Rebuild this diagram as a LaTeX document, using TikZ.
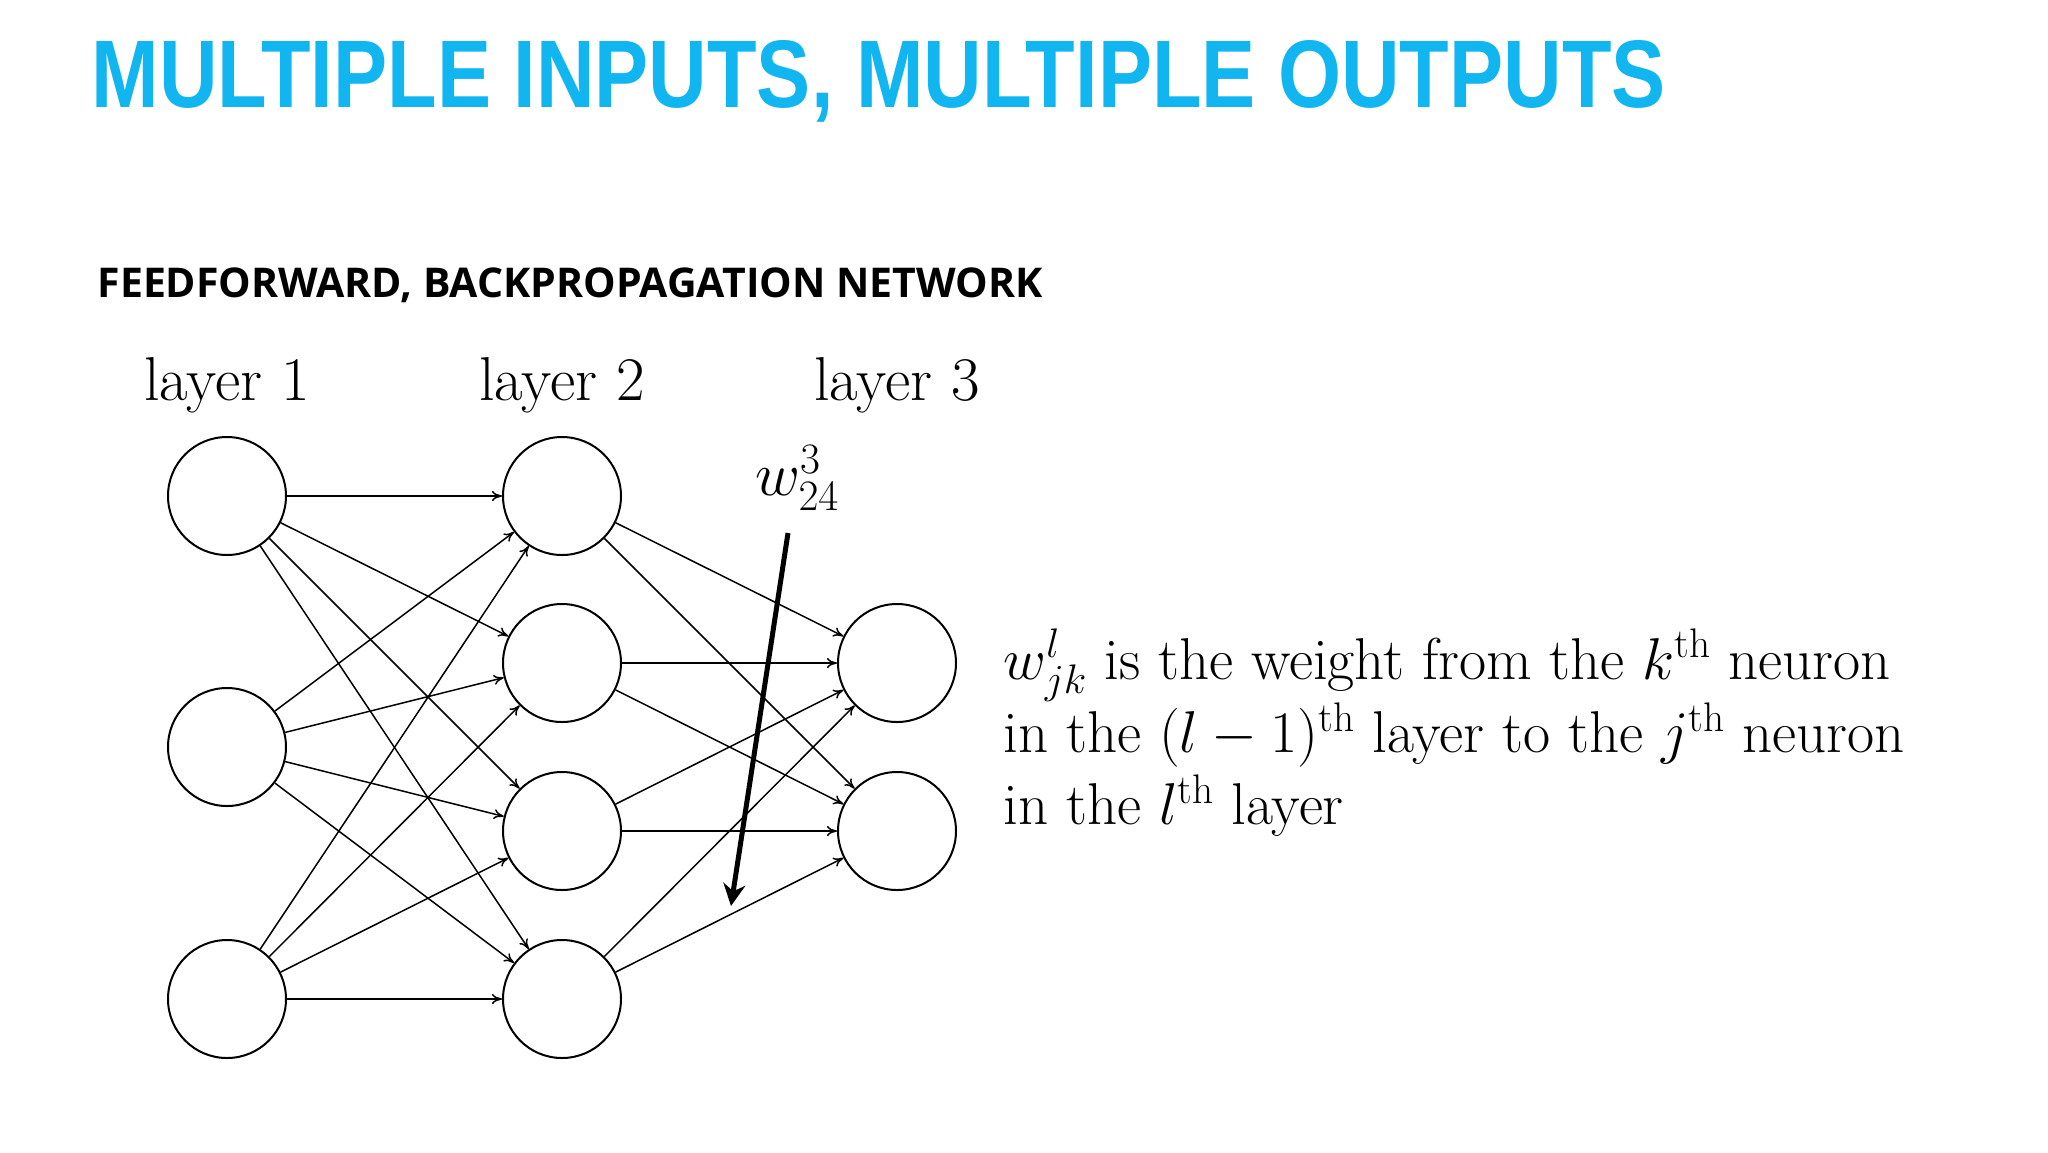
\documentclass[tikz,border=0pt]{standalone}
\usepackage{fix-cm}
\usepackage{graphicx}
\usepackage{fontspec}
\newfontfamily\titlefont{Open Sans}
\newfontfamily\headfont{Liberation Sans}
\usetikzlibrary{arrows.meta}
\definecolor{titleblue}{RGB}{17,181,240}
\begin{document}
\begin{tikzpicture}[x=1pt,y=-1pt,
  neuron/.style={circle,draw,line width=2pt,minimum size=118pt,inner sep=0pt},
  edge/.style={line width=1.5pt,-{To[length=10pt,width=10pt]}},
  lbl/.style={font=\fontsize{62}{70}\selectfont}]
\useasboundingbox (0,0) rectangle (2048,1152);
\node[anchor=west,text=titleblue,font=\headfont\bfseries\fontsize{96}{110}\selectfont] (title) at (88,81) {\scalebox{0.845}[1]{MULTIPLE INPUTS, MULTIPLE OUTPUTS}};
\node[anchor=west,font=\titlefont\bfseries\fontsize{41}{46}\selectfont] (sub) at (94,285) {FEEDFORWARD, BACKPROPAGATION NETWORK};
\node[lbl] (l1) at (227,385) {layer 1};
\node[lbl] (l2) at (562,385) {layer 2};
\node[lbl] (l3) at (897,385) {layer 3};
\foreach \i/\y in {1/496,2/747,3/999} \node[neuron] (a\i) at (227,\y) {};
\foreach \i/\y in {1/496,2/663,3/831,4/999} \node[neuron] (b\i) at (562,\y) {};
\foreach \i/\y in {1/663,2/831} \node[neuron] (c\i) at (897,\y) {};
\foreach \i in {1,2,3} \foreach \j in {1,2,3,4} \draw[edge] (a\i) -- (b\j);
\foreach \i in {1,2,3,4} \foreach \j in {1,2} \draw[edge] (b\i) -- (c\j);
\node[lbl] (w) at (797,478) {$w^3_{24}$};
\coordinate (ws) at (788,533);
\coordinate (we) at (731,906);
\draw[line width=5pt,-{Stealth[length=22pt,width=22pt]}] (ws) -- (we);
\node[anchor=west,align=left,font=\fontsize{59}{72}\selectfont] (txt) at (1000,733)
{$w^l_{jk}$ is the weight from the $k^{\rm th}$ neuron\\
in the $(l-1)^{\rm th}$ layer to the $j^{\rm th}$ neuron\\
in the $l^{\rm th}$ layer};
\end{tikzpicture}
\end{document}
